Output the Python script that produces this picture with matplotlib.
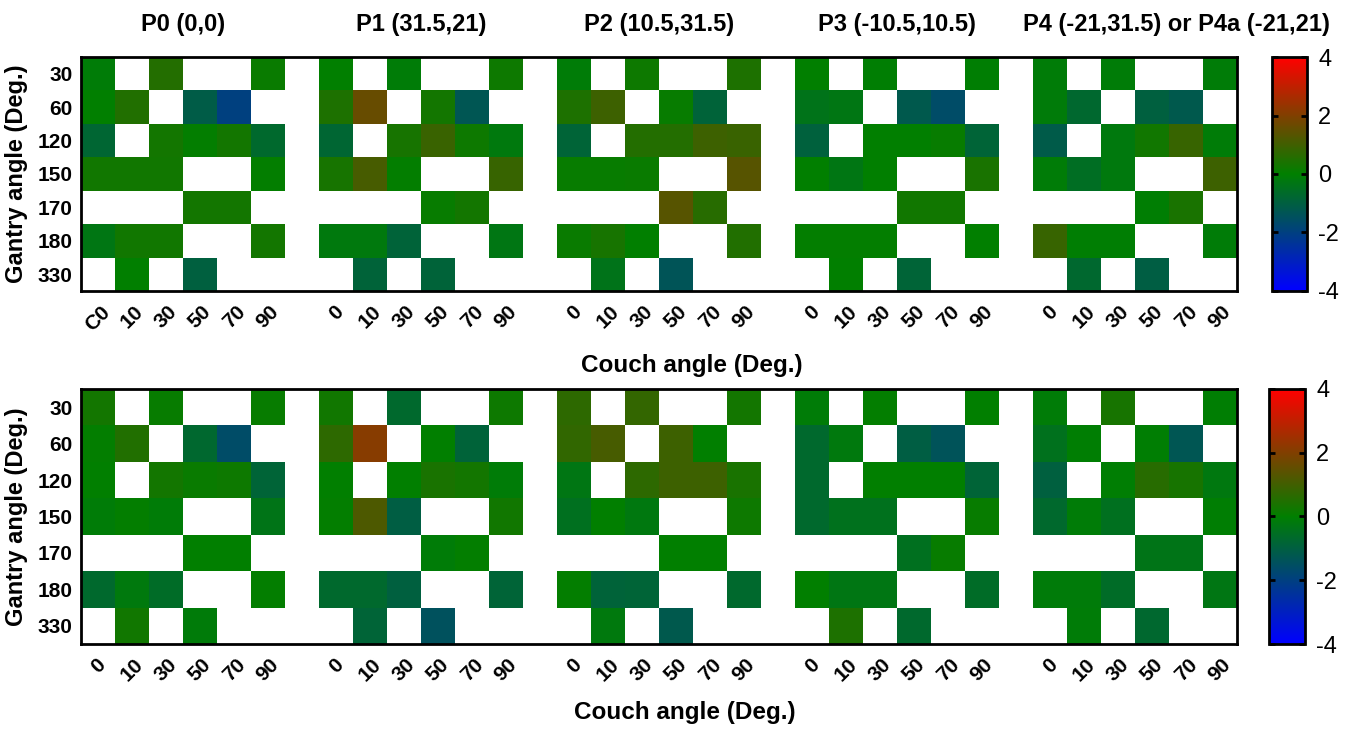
import numpy as np
import matplotlib.pyplot as plt
import matplotlib.transforms as mtransforms
from matplotlib.colors import LinearSegmentedColormap

plt.rcParams['font.family'] = ['Liberation Sans', 'DejaVu Sans']
plt.rcParams['axes.unicode_minus'] = False

gantry = ['30', '60', '120', '150', '170', '180', '330']
couch = ['0', '10', '30', '50', '70', '90']
couch_top = ['C0', '10', '30', '50', '70', '90']
titles = ['P0 (0,0)', 'P1 (31.5,21)', 'P2 (10.5,31.5)',
          'P3 (-10.5,10.5)', 'P4 (-21,31.5) or P4a (-21,21)']

N = np.nan
# rows: gantry 30..330, cols: couch 0..90
top_p0 = [[-0.1, N, 0.55, N, N, 0.15],
          [0.0, 0.5, N, -1.1, -2.0, N],
          [-0.8, N, 0.3, 0.05, 0.3, -0.7],
          [0.25, 0.25, 0.25, N, N, 0.05],
          [N, N, N, 0.3, 0.3, N],
          [-0.3, 0.25, 0.25, N, N, 0.3],
          [N, 0.0, N, -1.0, N, N]]
top_p1 = [[0.0, N, -0.1, N, N, 0.2],
          [0.45, 1.6, N, 0.3, -1.3, N],
          [-0.8, N, 0.35, 0.9, 0.2, -0.2],
          [0.35, 1.1, 0.05, N, N, 0.85],
          [N, N, N, 0.1, 0.3, N],
          [-0.2, -0.2, -0.9, N, N, -0.3],
          [N, -0.9, N, -0.9, N, N]]
top_p2 = [[-0.1, N, 0.2, N, N, 0.45],
          [0.45, 0.95, N, 0.1, -0.9, N],
          [-0.85, N, 0.55, 0.55, 0.95, 0.9],
          [0.1, 0.1, 0.15, N, N, 1.35],
          [N, N, N, 1.35, 0.6, N],
          [0.15, 0.35, 0.0, N, N, 0.5],
          [N, -0.4, N, -1.35, N, N]]
top_p3 = [[0.0, N, -0.05, N, N, -0.05],
          [-0.4, -0.3, N, -1.2, -1.6, N],
          [-0.95, N, 0.0, 0.0, 0.1, -0.85],
          [0.0, -0.3, 0.0, N, N, 0.4],
          [N, N, N, 0.25, 0.25, N],
          [0.05, 0.05, 0.05, N, N, 0.0],
          [N, 0.0, N, -0.85, N, N]]
top_p4 = [[-0.1, N, -0.1, N, N, -0.1],
          [-0.15, -0.75, N, -1.0, -1.2, N],
          [-1.15, N, -0.2, 0.25, 0.85, -0.1],
          [-0.1, -0.55, -0.2, N, N, 0.95],
          [N, N, N, -0.05, 0.4, N],
          [0.85, -0.05, -0.05, N, N, -0.1],
          [N, -0.75, N, -1.05, N, N]]

bot_p0 = [[0.3, N, 0.1, N, N, 0.1],
          [0.05, 0.5, N, -0.75, -1.6, N],
          [0.0, N, 0.3, 0.15, 0.2, -0.85],
          [-0.1, 0.05, -0.1, N, N, -0.35],
          [N, N, N, 0.0, 0.0, N],
          [-0.7, -0.2, -0.6, N, N, 0.05],
          [N, 0.25, N, -0.15, N, N]]
bot_p1 = [[0.25, N, -0.7, N, N, 0.2],
          [0.7, 2.1, N, 0.0, -0.9, N],
          [0.0, N, 0.0, 0.4, 0.3, -0.1],
          [0.05, 1.2, -1.05, N, N, 0.25],
          [N, N, N, -0.1, 0.05, N],
          [-0.7, -0.7, -1.0, N, N, -0.85],
          [N, -0.85, N, -1.45, N, N]]
bot_p2 = [[0.7, N, 0.8, N, N, 0.3],
          [0.75, 1.1, N, 0.95, 0.0, N],
          [-0.3, N, 0.7, 0.95, 0.95, 0.4],
          [-0.5, 0.0, -0.25, N, N, 0.2],
          [N, N, N, 0.0, 0.0, N],
          [0.05, -0.9, -0.85, N, N, -0.7],
          [N, -0.2, N, -1.2, N, N]]
bot_p3 = [[-0.1, N, 0.05, N, N, 0.0],
          [-0.7, -0.2, N, -1.05, -1.4, N],
          [-0.7, N, 0.0, 0.0, 0.0, -0.85],
          [-0.7, -0.45, -0.45, N, N, 0.1],
          [N, N, N, -0.5, 0.1, N],
          [0.0, -0.3, -0.3, N, N, -0.6],
          [N, 0.45, N, -0.7, N, N]]
bot_p4 = [[-0.1, N, 0.35, N, N, -0.05],
          [-0.45, -0.05, N, -0.05, -1.3, N],
          [-1.0, N, -0.05, 0.6, 0.35, -0.25],
          [-0.7, -0.1, -0.5, N, N, -0.05],
          [N, N, N, -0.35, -0.35, N],
          [-0.15, -0.15, -0.6, N, N, -0.3],
          [N, -0.1, N, -0.75, N, N]]

top_groups = [top_p0, top_p1, top_p2, top_p3, top_p4]
bot_groups = [bot_p0, bot_p1, bot_p2, bot_p3, bot_p4]

# blue -> green -> red, -4 .. 4
cmap = LinearSegmentedColormap.from_list('bgr', ['#0000ff', '#008000', '#ff0000'])
cmap.set_bad('white')


def join_groups(groups):
    # put one empty column between the position groups
    gap = np.full((len(gantry), 1), np.nan)
    parts = []
    for i, g in enumerate(groups):
        if i > 0:
            parts.append(gap)
        parts.append(np.array(g, dtype=float))
    return np.hstack(parts)


def draw_panel(ax, cax, groups, xlabels):
    data = join_groups(groups)
    nrow, ncol = data.shape
    mesh = ax.pcolormesh(np.arange(ncol + 1), np.arange(nrow + 1),
                         np.ma.masked_invalid(data), cmap=cmap, vmin=-4, vmax=4)
    ax.set_xlim(0, ncol)
    ax.set_ylim(nrow, 0)

    xt, xl = [], []
    for k in range(len(groups)):
        for j in range(len(couch)):
            xt.append(k * (len(couch) + 1) + j + 0.5)
            xl.append(xlabels[j] if k == 0 else couch[j])
    ax.set_xticks(xt)
    ax.set_xticklabels(xl, rotation=45, ha='center', fontsize=15, fontweight='bold')
    ax.set_yticks(np.arange(nrow) + 0.5)
    ax.set_yticklabels(gantry, fontsize=15, fontweight='bold')
    ax.tick_params(axis='both', length=0)
    ax.tick_params(axis='x', pad=8)
    ax.tick_params(axis='y', pad=6)
    for s in ax.spines.values():
        s.set_linewidth(2)

    ax.set_ylabel('Gantry angle (Deg.)', fontsize=17, fontweight='bold', labelpad=7)
    ax.set_xlabel('Couch angle (Deg.)', fontsize=17.5, fontweight='bold')

    cb = fig.colorbar(mesh, cax=cax, ticks=[-4, -2, 0, 2, 4])
    cb.outline.set_linewidth(2)
    cb.ax.tick_params(labelsize=17, direction='in', length=4, width=2,
                      left=True, right=True, pad=8)
    return mesh


fig = plt.figure(figsize=(13.54, 7.32), dpi=100)

ax1 = fig.add_axes([0.0598, 0.6025, 0.8538, 0.3196])
cax1 = fig.add_axes([0.9394, 0.6025, 0.0259, 0.3196])
ax2 = fig.add_axes([0.0598, 0.1202, 0.8538, 0.3484])
cax2 = fig.add_axes([0.9372, 0.1202, 0.0266, 0.3484])

draw_panel(ax1, cax1, top_groups, couch_top)
draw_panel(ax2, cax2, bot_groups, couch)

ax1.xaxis.set_label_coords(0.528, -0.27)
ax2.xaxis.set_label_coords(0.522, -0.225)

# position names above each group of the top panel;
# the last one is long, so it starts at its group and runs right
trans = mtransforms.blended_transform_factory(ax1.transData, ax1.transAxes)
for k, t in enumerate(titles):
    x0 = k * (len(couch) + 1)
    if k == len(titles) - 1:
        ax1.text(x0 - 0.3, 1.09, t, transform=trans, ha='left', va='bottom',
                 fontsize=17, fontweight='bold')
    else:
        ax1.text(x0 + len(couch) / 2, 1.09, t, transform=trans, ha='center',
                 va='bottom', fontsize=17, fontweight='bold')

fig.savefig('out.png', dpi=100)
